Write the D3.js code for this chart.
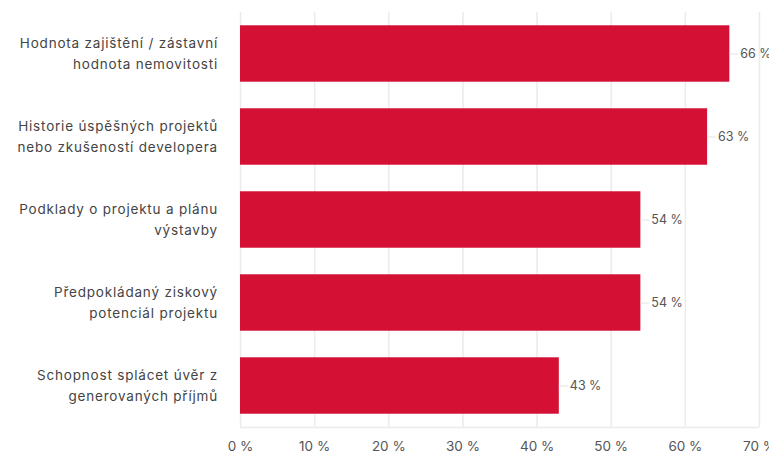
<!DOCTYPE html>
<html>
<head>
<meta charset="utf-8">
<script src="https://cdn.jsdelivr.net/npm/d3@7"></script>
<style>
  body { margin: 0; background: #fff; }
  svg { display: block; font-family: Inter, "DejaVu Sans", sans-serif; }
</style>
</head>
<body>
<svg id="chart" width="769" height="454"></svg>
<script>
// Category labels (each as its two display lines) and their shares in percent
const categories = [
  ["Hodnota zajištění / zástavní", "hodnota nemovitosti"],
  ["Historie úspěšných projektů", "nebo zkušeností developera"],
  ["Podklady o projektu a plánu", "výstavby"],
  ["Předpokládaný ziskový", "potenciál projektu"],
  ["Schopnost splácet úvěr z", "generovaných příjmů"]
];
const values = [66, 63, 54, 54, 43];
const xTicks = [0, 10, 20, 30, 40, 50, 60, 70];

const svg = d3.select("#chart");
const margin = { top: 12, right: 10, bottom: 27, left: 240 };
const W = 769, H = 454;
const innerW = 759 - margin.left;
const innerH = H - margin.top - margin.bottom;

const g = svg.append("g").attr("transform", `translate(${margin.left},${margin.top})`);

const x = d3.scaleLinear().domain([0, 70]).range([0, innerW]);
const y = d3.scaleBand()
  .domain(d3.range(categories.length))
  .range([0, innerH])
  .paddingInner(0.32)
  .paddingOuter(0.16);

// vertical grid
g.append("g").selectAll("line").data(xTicks).join("line")
  .attr("x1", d => x(d) + 0.5).attr("x2", d => x(d) + 0.5)
  .attr("y1", 0).attr("y2", innerH)
  .attr("stroke", "#ebebeb").attr("stroke-width", 1.5);

// baseline
g.append("line")
  .attr("x1", 0).attr("x2", innerW)
  .attr("y1", innerH + 0.5).attr("y2", innerH + 0.5)
  .attr("stroke", "#ebebeb").attr("stroke-width", 1.5);

// bars
g.append("g").selectAll("rect").data(values).join("rect")
  .attr("x", x(0))
  .attr("y", (d, i) => y(i))
  .attr("width", d => x(d) - x(0))
  .attr("height", y.bandwidth())
  .attr("fill", "#d41034");

// connector from bar end to value label
g.append("g").selectAll("line").data(values).join("line")
  .attr("x1", d => x(d)).attr("x2", d => x(d) + 9)
  .attr("y1", (d, i) => y(i) + y.bandwidth() / 2 + 0.5)
  .attr("y2", (d, i) => y(i) + y.bandwidth() / 2 + 0.5)
  .attr("stroke", "#e2e2e2").attr("stroke-width", 1);

// value labels
g.append("g").selectAll("text").data(values).join("text")
  .attr("x", d => x(d) + 11)
  .attr("y", (d, i) => y(i) + y.bandwidth() / 2)
  .attr("dy", "0.35em")
  .attr("font-size", 12.5)
  .attr("fill", "#555")
  .text(d => `${d} %`);

// category labels
const cat = g.append("g").selectAll("text").data(categories).join("text")
  .attr("text-anchor", "end")
  .attr("font-size", 13.5)
  .attr("letter-spacing", 0.8)
  .attr("fill", "#444")
  .attr("transform", (d, i) => `translate(-22,${y(i) + y.bandwidth() / 2})`);
cat.selectAll("tspan").data(d => d).join("tspan")
  .attr("x", 0)
  .attr("y", (d, j, arr) => (j - (arr.length - 1) / 2) * 21)
  .attr("dy", "0.35em")
  .text(d => d);

// x axis tick labels
const xAxis = d3.axisBottom(x).tickValues(xTicks).tickFormat(d => `${d} %`).tickSize(0).tickPadding(14);
const ax = g.append("g").attr("transform", `translate(0,${innerH})`).call(xAxis);
ax.select(".domain").remove();
ax.selectAll("text").attr("font-size", 13.5).attr("fill", "#555").attr("font-family", "Inter, 'DejaVu Sans', sans-serif");
</script>
</body>
</html>
